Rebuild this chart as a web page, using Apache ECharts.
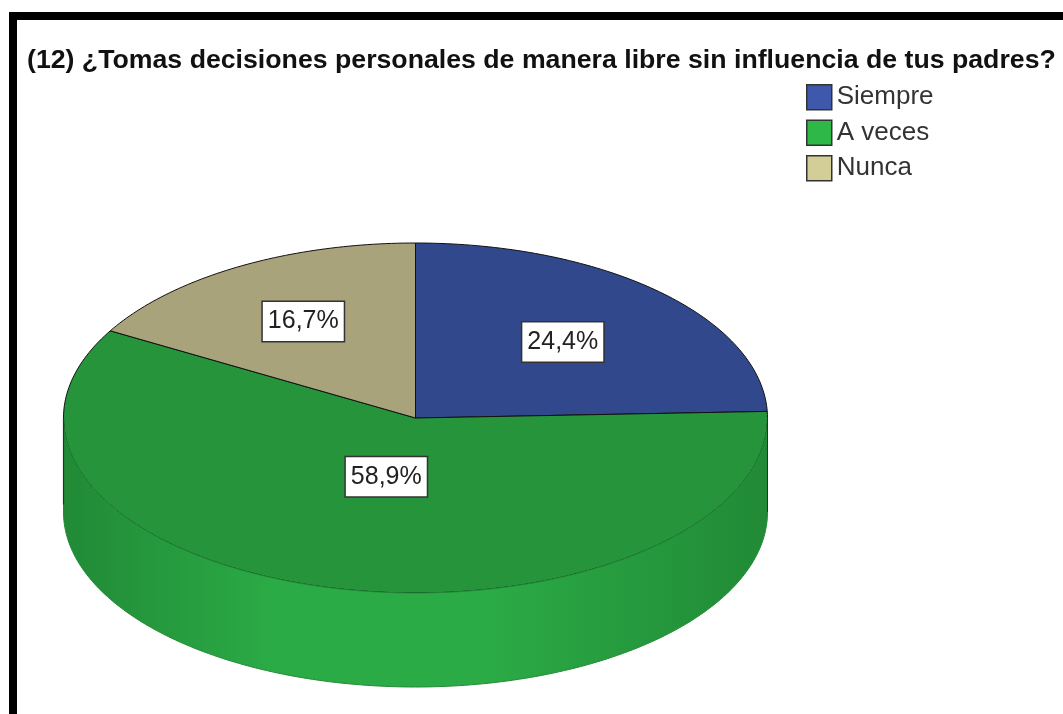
<!DOCTYPE html>
<html lang="es">
<head>
<meta charset="UTF-8">
<title>Decisiones personales</title>
<script src="https://cdn.jsdelivr.net/npm/echarts@6/dist/echarts.min.js"></script>
<style>
    html, body { margin: 0; padding: 0; background: #fff; }
    #frame {
        position: absolute; left: 9px; top: 12px; right: 0; bottom: 0;
        border-left: 8px solid #000; border-top: 8px solid #000;
    }
    #chart { position: absolute; left: 0; top: 0; width: 1063px; height: 714px; }
</style>
</head>
<body>
<div id="frame"></div>
<div id="chart"></div>
<script>
    // datos
    var categories = ['Siempre', 'A veces', 'Nunca'];
    var percentValues = [24.4, 58.9, 16.7];

    // colores (leyenda / cara superior / lateral)
    var legendColors = ['#3E58AC', '#2EB848', '#D3CE97'];
    var topColors = ['#32488C', '#25943B', '#A8A37A'];
    var sideEdgeColors = ['#2A3D78', '#218A36', '#8F8B66'];
    var sideMidColors = ['#3A52A0', '#2BAB46', '#BDB88A'];

    // geometria del pastel 3D
    var cx = 415.5, cy = 418, rx = 352, ry = 175, depth = 94;
    var labelFont = '25px "Liberation Sans", Arial, sans-serif';

    var total = percentValues.reduce(function (a, b) { return a + b; }, 0);

    function pt(deg, dy) {
        var t = deg * Math.PI / 180;
        return [cx + rx * Math.sin(t), cy - ry * Math.cos(t) + (dy || 0)];
    }

    function arc(a, b, dy) {
        var pts = [];
        var n = Math.max(2, Math.ceil(Math.abs(b - a)));
        for (var k = 0; k <= n; k++) pts.push(pt(a + (b - a) * k / n, dy));
        return pts;
    }

    function renderSlice(params, api) {
        var i = params.seriesIndex;
        var start = 0;
        for (var k = 0; k < i; k++) start += percentValues[k];
        var a0 = start / total * 360;
        var a1 = (start + api.value(0)) / total * 360;

        var children = [];
        var topPts = [[cx, cy]].concat(arc(a0, a1, 0));
        children.push({
            type: 'polygon',
            shape: { points: topPts },
            style: { fill: topColors[i], stroke: '#111', lineWidth: 1 },
            z2: 1
        });

        // lateral visible (mitad frontal)
        var s = Math.max(a0, 90), e = Math.min(a1, 270);
        if (s < e) {
            var sidePts = arc(s, e, 0).concat(arc(e, s, depth));
            children.push({
                type: 'polygon',
                shape: { points: sidePts },
                style: {
                    fill: {
                        type: 'linear', x: 0, y: 0, x2: 1, y2: 0,
                        colorStops: [
                            { offset: 0, color: sideEdgeColors[i] },
                            { offset: 0.3, color: sideMidColors[i] },
                            { offset: 0.6, color: sideMidColors[i] },
                            { offset: 1, color: sideEdgeColors[i] }
                        ]
                    },
                    stroke: sideEdgeColors[i], lineWidth: 1
                },
                z2: 2
            });
            // borde vertical derecho/izquierdo del cilindro
            children.push({
                type: 'polyline',
                shape: { points: [pt(e, 0), pt(e, depth * 0.92)] },
                style: { stroke: '#1b3a20', lineWidth: 1.2 },
                z2: 3
            });
            children.push({
                type: 'polyline',
                shape: { points: [pt(s, 0), pt(s, depth)] },
                style: { stroke: '#1b3a20', lineWidth: 1 },
                z2: 3
            });
        }

        // etiqueta en el centroide del sector
        var half = (a1 - a0) / 2 * Math.PI / 180;
        var d = 2 * Math.sin(half) / (3 * half);
        var mid = (a0 + a1) / 2 * Math.PI / 180;
        children.push({
            type: 'text',
            x: cx + d * rx * Math.sin(mid),
            y: cy - d * ry * Math.cos(mid),
            style: {
                text: api.value(0).toFixed(1).replace('.', ',') + '%',
                font: labelFont,
                fill: '#222',
                align: 'center',
                verticalAlign: 'middle',
                backgroundColor: '#fff',
                borderColor: '#333',
                borderWidth: 1.5,
                padding: [8, 5, 6, 5]
            },
            z2: 10
        });

        return { type: 'group', children: children };
    }

    var chart = echarts.init(document.getElementById('chart'));

    var series = categories.map(function (name, i) {
        return {
            name: name,
            type: 'custom',
            coordinateSystem: 'none',
            silent: true,
            animation: false,
            itemStyle: { color: legendColors[i] },
            renderItem: renderSlice,
            data: [[percentValues[i]]]
        };
    });

    var option = {
        title: {
            text: '(12) ¿Tomas decisiones personales de manera libre sin influencia de tus padres?',
            left: 22,
            top: 42,
            textStyle: {
                fontFamily: '"Liberation Sans", Arial, sans-serif',
                fontWeight: 'bold',
                fontSize: 26.7,
                color: '#111'
            }
        },
        legend: {
            orient: 'vertical',
            left: 806,
            top: 84,
            padding: 0,
            itemWidth: 25,
            itemHeight: 25,
            itemGap: 9,
            icon: 'rect',
            selectedMode: false,
            itemStyle: { borderColor: '#333', borderWidth: 1.5 },
            textStyle: {
                fontFamily: '"Liberation Sans", Arial, sans-serif',
                fontSize: 26,
                color: '#333'
            },
            data: categories
        },
        series: series
    };

    chart.setOption(option);
</script>
</body>
</html>
